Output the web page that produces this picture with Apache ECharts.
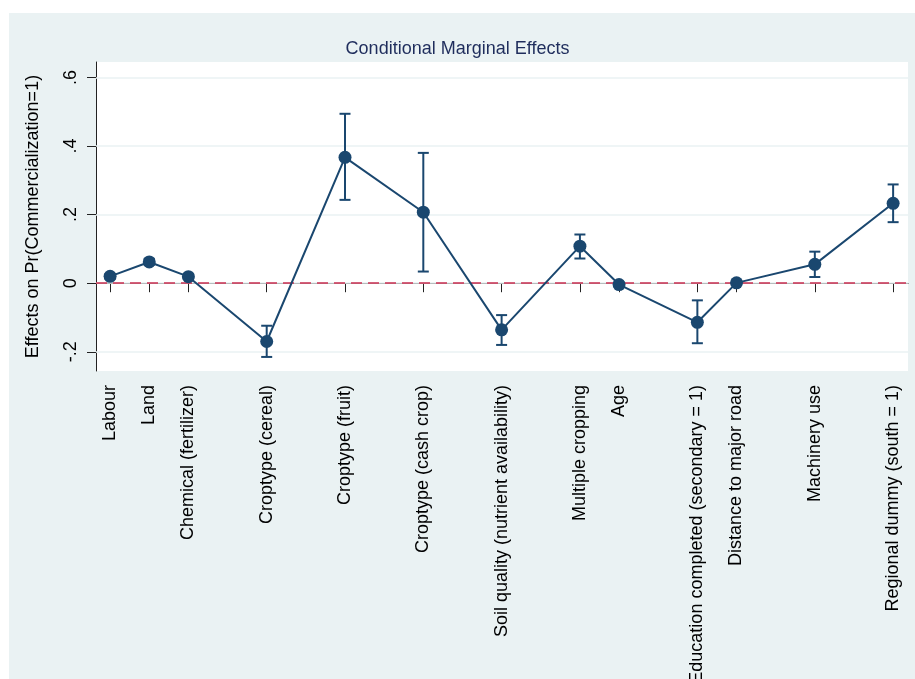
<!DOCTYPE html>
<html>
<head>
<meta charset="utf-8">
<script src="https://cdn.jsdelivr.net/npm/echarts@6/dist/echarts.min.js"></script>
<style>
  html, body { margin: 0; padding: 0; background: #ffffff; }
  #chart { width: 915px; height: 679px; }
</style>
</head>
<body>
<div id="chart"></div>
<script>
// Covariate names and their positions along the x axis
const categories = [
  'Labour', 'Land', 'Chemical (fertilizer)', 'Croptype (cereal)', 'Croptype (fruit)',
  'Croptype (cash crop)', 'Soil quality (nutrient availability)', 'Multiple cropping', 'Age',
  'Education completed (secondary = 1)', 'Distance to major road', 'Machinery use',
  'Regional dummy (south = 1)'
];
const positions = [1, 2, 3, 5, 7, 9, 11, 13, 14, 16, 17, 19, 21];

// Marginal effects with confidence bounds
const effects = [0.020, 0.062, 0.019, -0.170, 0.367, 0.207, -0.136, 0.108, -0.004, -0.114, 0.001, 0.055, 0.233];
const ciLow   = [0.013, 0.053, 0.012, -0.215, 0.243, 0.034, -0.180, 0.072, -0.010, -0.175, -0.005, 0.018, 0.178];
const ciHigh  = [0.027, 0.071, 0.026, -0.124, 0.494, 0.380, -0.093, 0.142, 0.002, -0.050, 0.007, 0.092, 0.288];

// y axis ticks
const yTicks = [-0.2, 0, 0.2, 0.4, 0.6];
const yTickLabels = ['-.2', '0', '.2', '.4', '.6'];

const NAVY = '#1a476f';
const PANEL = '#eaf2f3';
const FONT = '"Liberation Sans", Arial, sans-serif';

const chart = echarts.init(document.getElementById('chart'), null, { renderer: 'canvas' });

const linePoints = positions.map((x, i) => [x, effects[i]]);
const barPoints = positions.map((x, i) => [x, ciLow[i], ciHigh[i]]);

const option = {
  backgroundColor: PANEL,
  animation: false,
  textStyle: { fontFamily: FONT },
  graphic: [
    { type: 'rect', shape: { x: 0, y: 0, width: 915, height: 13 }, style: { fill: '#ffffff' }, silent: true },
    { type: 'rect', shape: { x: 0, y: 0, width: 9, height: 679 }, style: { fill: '#ffffff' }, silent: true }
  ],
  title: {
    text: 'Conditional Marginal Effects',
    left: 'center',
    top: 35,
    textStyle: { fontFamily: FONT, fontSize: 18, fontWeight: 'normal', color: '#1f2d5c' }
  },
  grid: {
    left: 96, right: 7, top: 62, bottom: 308,
    outerBoundsMode: 'none',
    containLabel: false,
    show: true, backgroundColor: '#ffffff', borderWidth: 0
  },
  xAxis: {
    type: 'value',
    min: 0.64,
    max: 21.38,
    splitLine: { show: false },
    axisLine: { show: true, lineStyle: { color: '#222222', width: 1 } },
    axisTick: { show: true, length: 9, customValues: positions, lineStyle: { color: '#222222', width: 1 } },
    axisLabel: {
      customValues: positions,
      rotate: 90,
      margin: 14,
      fontFamily: FONT,
      fontSize: 18,
      color: '#000000',
      formatter: (v) => {
        const i = positions.indexOf(Math.round(v));
        return i >= 0 ? categories[i] : '';
      }
    }
  },
  yAxis: {
    type: 'value',
    min: -0.256,
    max: 0.645,
    name: 'Effects on Pr(Commercialization=1)',
    nameLocation: 'middle',
    nameRotate: 90,
    nameGap: 54,
    nameTextStyle: { fontFamily: FONT, fontSize: 18, color: '#000000' },
    splitLine: { show: false },
    axisLine: { show: true, lineStyle: { color: '#222222', width: 1 } },
    axisTick: { show: true, length: 9, customValues: yTicks, lineStyle: { color: '#222222', width: 1 } },
    axisLabel: {
      customValues: yTicks,
      rotate: 90,
      margin: 16,
      fontFamily: FONT,
      fontSize: 18,
      color: '#000000',
      formatter: (v) => {
        const i = yTicks.findIndex(t => Math.abs(t - v) < 1e-6);
        return i >= 0 ? yTickLabels[i] : '';
      }
    }
  },
  series: [
    {
      // horizontal grid lines
      type: 'line',
      data: [],
      z: 1,
      silent: true,
      markLine: {
        z: 1,
        silent: true,
        symbol: 'none',
        label: { show: false },
        lineStyle: { color: PANEL, width: 1.5, type: 'solid' },
        data: yTicks.map(t => ({ yAxis: t }))
      }
    },
    {
      // reference line at zero
      type: 'line',
      data: [],
      z: 2,
      silent: true,
      markLine: {
        z: 2,
        silent: true,
        symbol: 'none',
        label: { show: false },
        lineStyle: { color: '#cc2f52', width: 1.5, type: [11, 6] },
        data: [{ yAxis: 0 }]
      }
    },
    {
      // confidence intervals
      type: 'custom',
      z: 3,
      data: barPoints,
      renderItem: (params, api) => {
        const x = api.value(0);
        const lo = api.coord([x, api.value(1)]);
        const hi = api.coord([x, api.value(2)]);
        const half = 5.5;
        const style = { stroke: NAVY, lineWidth: 2, fill: 'none' };
        return {
          type: 'group',
          children: [
            { type: 'line', shape: { x1: lo[0], y1: lo[1], x2: hi[0], y2: hi[1] }, style },
            { type: 'line', shape: { x1: lo[0] - half, y1: lo[1], x2: lo[0] + half, y2: lo[1] }, style },
            { type: 'line', shape: { x1: hi[0] - half, y1: hi[1], x2: hi[0] + half, y2: hi[1] }, style }
          ]
        };
      }
    },
    {
      // marginal effects
      type: 'line',
      z: 4,
      data: linePoints,
      symbol: 'circle',
      symbolSize: 13,
      showSymbol: true,
      itemStyle: { color: NAVY },
      lineStyle: { color: NAVY, width: 2 }
    }
  ]
};

chart.setOption(option);
</script>
</body>
</html>
